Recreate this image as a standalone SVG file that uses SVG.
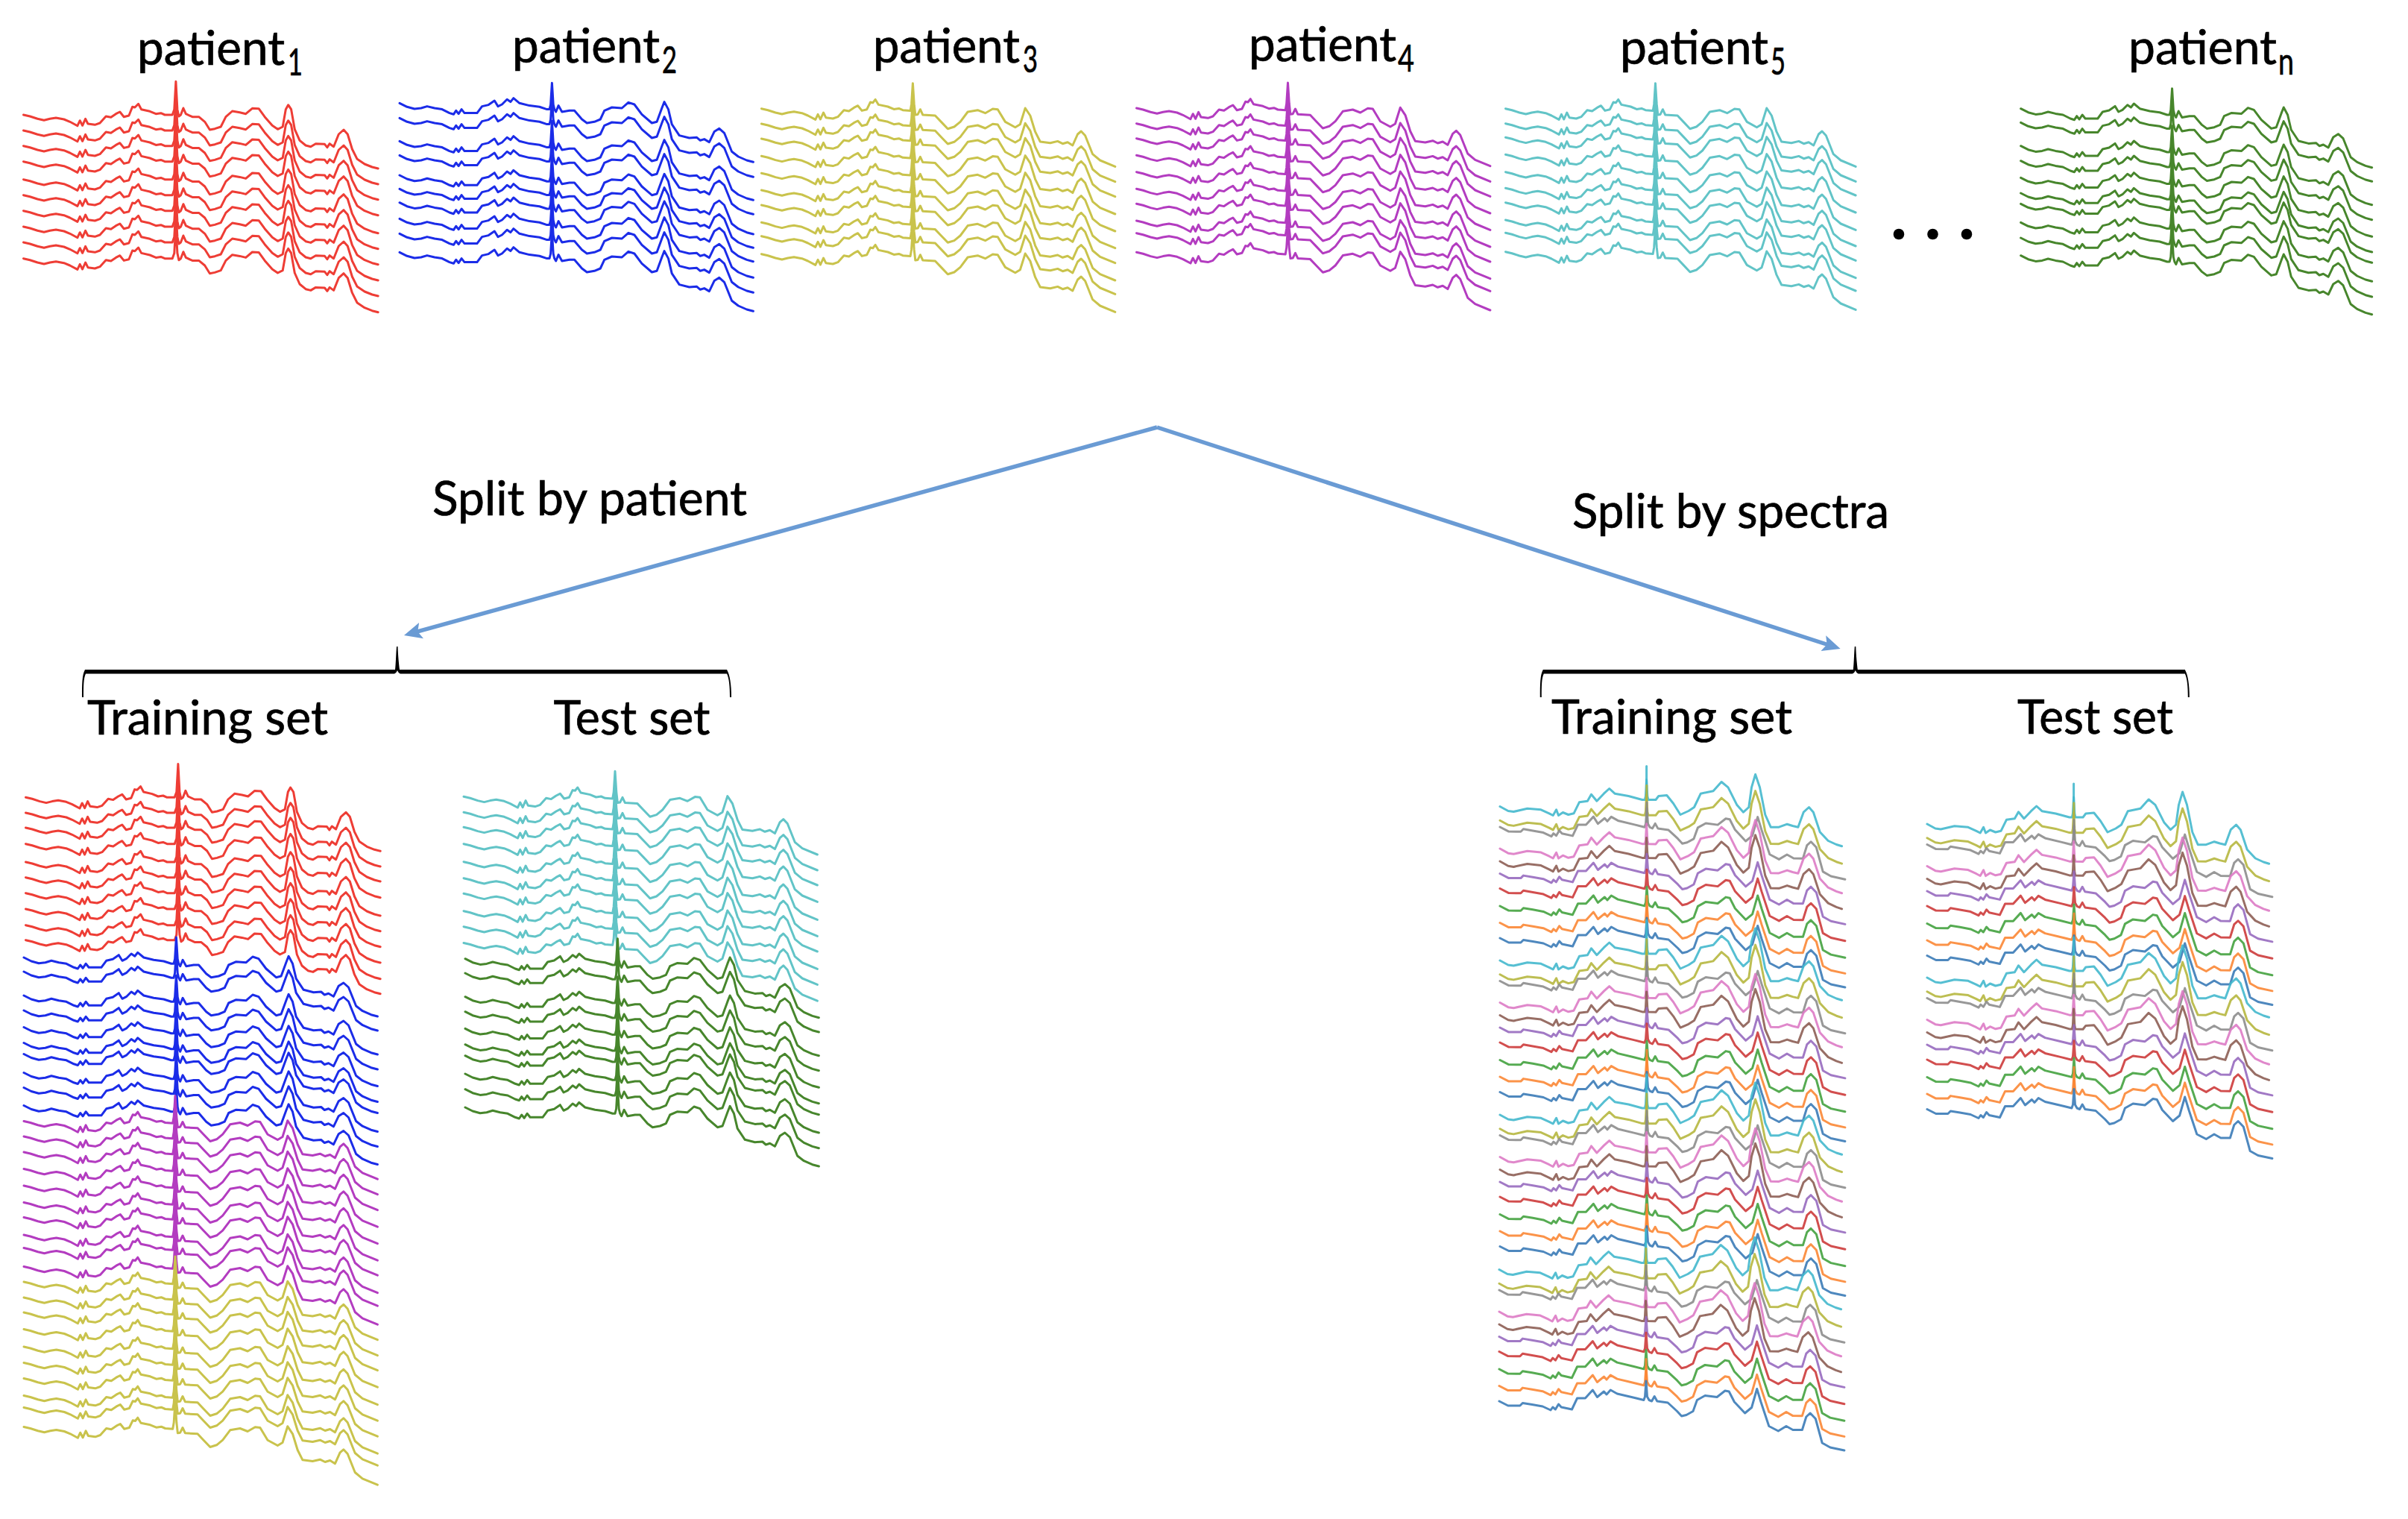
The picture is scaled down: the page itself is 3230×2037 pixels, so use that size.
<svg xmlns="http://www.w3.org/2000/svg" width="3230" height="2037" viewBox="0 0 3230 2037">
<style>
text{font-family:Lato,"Open Sans","Liberation Sans",sans-serif;fill:#000;stroke:#000;stroke-width:.7}
.lb{font-size:63px}.sb{font-size:50px}
.tr{fill:none;stroke-linejoin:round;stroke-linecap:round;stroke-width:3}
.red{stroke:#ee3d35}.blu{stroke:#1b2ce8}.oli{stroke:#c9c34c}.pur{stroke:#b33cc0}.tea{stroke:#62c4c7}.grn{stroke:#47862c}
.m{stroke-opacity:.88}
.k0{stroke:#3fb6cc}.k1{stroke:#b4b53a}.k2{stroke:#8a8a8a}.k3{stroke:#dc78c4}.k4{stroke:#8a5a50}.k5{stroke:#9467bd}.k6{stroke:#cc3535}.k7{stroke:#3f9f3a}.k8{stroke:#fb8430}.k9{stroke:#3577b5}
.ar{fill:none;stroke:#6a9bd4;stroke-width:5.5}
</style>
<defs>
<marker id="ah" markerUnits="userSpaceOnUse" markerWidth="24" markerHeight="24" refX="6" refY="12" orient="auto"><path d="M0 1L24 12L0 23L5 12Z" fill="#6a9bd4"/></marker>
<path id="br" d="M110 935C110 918 110 905 114 898H530C531 890 531 880 532 867H533.5C534 880 535 890 536 898H975C979 905 981 918 981 935H979C979 920 978 910 975 903.5H538C535 903.5 534 901 533 899C532 901 531 903.5 528 903.5H115C112 910 112 920 112 935Z" fill="#000"/>
<path id="s" d="M0 0L8.7 2L18.8 5.3L27.5 7.3L35.5 5.3L43.6 4L54.3 6L62.3 9.3L72.4 14.7L75.7 7.7L79.1 14.3L83.1 5.3L86.4 12L95.8 13.3L102.5 11L110.6 2L117.3 3.3L124 -1.3L129.3 -4L134.7 2.7L141.4 1L146.1 -10.7L149.4 -10L154.1 -14.7L158.1 -7.3L169.5 -4.7L177.6 -1.3L184.3 -2.3L189.6 0L199.7 0L202.3 -7.3L204.4 -44.7L206.4 -7.3L208.4 2L211 0L214.4 -9L217.8 -1.3L226.5 2.7L235.2 2.7L243.2 9.3L249.9 20L256.6 18.7L264.7 16L271.4 2.7L280.1 -5L290.1 -3.3L298.2 -1.3L306.9 -8.7L315.6 -8.3L323.6 2.7L333.7 14.3L341 19.3L347.7 16L351.8 -7.3L355.1 -13.3L359.1 -7.3L363.8 19.3L370.5 34.3L378.6 41L385.3 42.7L392 38.7L404 39.3L407.4 43.7L410.7 38.7L416.1 42.7L422.8 26L429.5 20L434.8 26L440.9 46L447.6 59.3L457.6 66L467.7 70L475.7 72"/>
<path id="t" d="M0 0L8.7 2L18.8 5.3L27.5 7.3L35.5 5.3L43.6 4L54.3 6L62.3 9.3L72.4 14.7L75.7 7.7L79.1 14.3L83.1 5.3L86.4 12L95.8 13.3L102.5 11L110.6 2L117.3 3.3L124 -1.3L129.3 -4L134.7 2.7L141.4 1L146.1 -8.7L149.4 -8L152.8 -12.3L157 -5.3L169.5 -2.7L177.6 .7L184.3 -.3L189.6 2L199.7 2.7L201.2 -6L203 -34L204.8 -6L206.4 8.3L209.7 7.7L213 1L216.4 8.3L233 9.3L241 17.7L249.9 27L258.6 24.3L266.7 17.7L276.7 4.3L290 2L300.2 6L310.2 .3L316.9 1L327 17.7L340.4 25L347 21L353.8 -.7L360.5 9.3L367.2 31L373.9 44.3L387.3 46L397.3 43.7L404 47L410.7 45L417.4 49.3L424.1 34.3L428.8 30.3L434.2 36L444.2 61L454.2 69.3L474.4 77.7"/>
<path id="u" d="M0 0L10 5L20 7.7L28.8 6.7L36.9 4.3L46.9 6.7L57 8.3L67 13.3L72.4 15L75.7 10L79.1 14.3L83.1 8.3L87.1 13.3L97.2 13.3L103.9 13.3L110.6 4.3L119.3 2.3L127.3 -3.3L132 4.3L137.4 1.7L144.1 -5L148.8 -1.7L152.8 -6.7L160.8 0L174.2 3.3L187.6 5L197.7 8.3L201 8.3L202.6 2L204.4 -27L206.2 2L207.7 8.3L209.7 11.7L213.1 3.3L217.8 11.7L227.8 10L234.5 10L244.6 21.7L251.3 26.7L261.3 25L269.3 21.7L274.7 10L284.8 5.7L298.2 6.7L306.9 -1L314.9 1.7L324.9 15L338.4 26.7L345.1 25L351.8 6.7L355.1 -1.7L360.5 8.3L365.2 28.3L375.2 43.3L388.6 46.7L398.7 46L403.3 50L408.7 48.3L415.4 52.3L422.1 38.3L428.8 34L435.5 40L445.6 65L454.3 71.7L465.7 76.7L474.4 79"/>
<path id="a" d="M0 0L11 6L18.3 7L36.7 2.7L55 4.3L66 9.3L71.2 12L75.6 4.3L78.5 12L84.4 8L91.7 11L99 9.3L106.4 -5.7L117.4 -7.3L122.5 -16.3L129.9 -7.3L139.4 -17.3L146.7 -24L154 -17.3L172.4 -14L190.8 -9L194.4 -9L195.4 -14L196.6 -36L197.8 -14L198.8 -9L209 -9L212.8 -14L223.8 -15L232.6 -4L242 11L253 6L260.5 1L269.3 -17.3L286.1 -20.7L297.1 -33L306 -25.7L317.7 -2.3L326.5 7.7L333.8 1L337.5 -25.7L342.6 -43L348.5 -25.7L355.8 11L363.2 27.7L374.2 27.7L385.2 23.7L392.5 26L399.9 27.7L407.2 7.7L414.5 1L420.4 7.7L429.2 34.3L440.2 46L451.2 51L458.6 53.3"/>
<path id="b" d="M0 0L11.8 6L27.9 6L31.4 2.5L44 4.5L58.2 7L69 12L71.8 8L75.4 11L79.6 4L83.2 8L97.5 11L104.6 -4L115.4 -4L125.4 -15L131.4 -5.5L140.4 -13L144 -9L149.3 -15L158.2 -10L179.6 -5L193.9 -1.5L195.5 -6L197 -27L198.5 -6L201 -1.5L204.6 0L208.2 -6.5L211.8 0L226.1 2L233.2 8.5L238.6 13.5L244.6 20L251 18.5L260 13.5L265.4 -1.5L276.1 -7.5L292.1 -5.5L302.9 -14L308.2 -13L315.4 1L329.6 16L338.6 8.5L345.7 -16.5L351 1L361.8 33.5L374.3 40L385 33.5L393.9 38.5L406.4 38.5L411.8 21L417.1 16L424.3 23.5L433.2 56L443.9 62L462.9 66"/>
<g id="cycle" class="tr m">
<use href="#a" class="k0"/><path class="k0" d="M196.6 -9V-54"/>
<use href="#a" class="k1" transform="matrix(1 .01 0 1 0 18.7)"/><path class="k1" d="M196.8 9V-28.3"/>
<use href="#b" class="k2" transform="matrix(1 .009 0 1 0 27.5)"/><path class="k2" d="M197 25V-5.5"/>
<use href="#a" class="k3" transform="matrix(1 .014 0 1 0 56.5)"/>
<use href="#a" class="k4" transform="matrix(1 .023 0 1 0 73.5)"/>
<use href="#b" class="k5" transform="matrix(1 .004 0 1 0 90)"/>
<use href="#b" class="k6" transform="matrix(1 .009 0 1 0 110)"/>
<use href="#b" class="k7" transform="matrix(1 .007 0 1 0 133.5)"/>
<use href="#b" class="k8" transform="matrix(1 .004 0 1 0 156)"/><path class="k8" d="M197 150V120"/>
<use href="#b" class="k9" transform="translate(0 176.5)"/>
</g>
</defs>
<g id="connectors">
<path class="ar" marker-end="url(#ah)" d="M1552 573L559.3 847.2"/>
<path class="ar" marker-end="url(#ah)" d="M1552 573L2451.5 864.5"/>
</g>
<g id="patient1"><text class="lb" x="184" y="87" textLength="198" lengthAdjust="spacingAndGlyphs">patient</text><text class="sb" x="386" y="101" textLength="20" lengthAdjust="spacingAndGlyphs">1</text>
<g class="tr red" transform="translate(31.5 0)"><use href="#s" y="154"/><use href="#s" y="175"/><use href="#s" y="195.7"/><use href="#s" y="216.7"/><use href="#s" y="240.7"/><use href="#s" y="261.7"/><use href="#s" y="282.7"/><use href="#s" y="304"/><use href="#s" y="325"/><use href="#s" y="346.7"/></g></g>
<g id="patient2"><text class="lb" x="687" y="83.5" textLength="198" lengthAdjust="spacingAndGlyphs">patient</text><text class="sb" x="888" y="98" textLength="20" lengthAdjust="spacingAndGlyphs">2</text>
<g class="tr blu" transform="translate(536 0)"><use href="#u" y="138.3"/><use href="#u" y="158.3"/><use href="#u" y="189.3"/><use href="#u" y="208.3"/><use href="#u" y="235"/><use href="#u" y="253.3"/><use href="#u" y="271.7"/><use href="#u" y="293.3"/><use href="#u" y="313.3"/><use href="#u" y="338.3"/></g></g>
<g id="patient3"><text class="lb" x="1171" y="83.5" textLength="197" lengthAdjust="spacingAndGlyphs">patient</text><text class="sb" x="1372" y="97" textLength="20" lengthAdjust="spacingAndGlyphs">3</text>
<g class="tr oli" transform="translate(1021.4 0)"><use href="#t" y="145.7"/><use href="#t" y="166"/><use href="#t" y="186"/><use href="#t" y="209.3"/><use href="#t" y="232.3"/><use href="#t" y="255"/><use href="#t" y="275"/><use href="#t" y="298.3"/><use href="#t" y="316.7"/><use href="#t" y="340.7"/></g></g>
<g id="patient4"><text class="lb" x="1675" y="81.7" textLength="198" lengthAdjust="spacingAndGlyphs">patient</text><text class="sb" x="1875" y="96" textLength="22" lengthAdjust="spacingAndGlyphs">4</text>
<g class="tr pur" transform="translate(1524.5 0)"><use href="#t" y="145"/><use href="#t" y="165.7"/><use href="#t" y="185.7"/><use href="#t" y="208.3"/><use href="#t" y="230.7"/><use href="#t" y="253.3"/><use href="#t" y="273.3"/><use href="#t" y="296"/><use href="#t" y="312.7"/><use href="#t" y="338.3"/></g></g>
<g id="patient5"><text class="lb" x="2173" y="85.7" textLength="199" lengthAdjust="spacingAndGlyphs">patient</text><text class="sb" x="2375" y="100" textLength="20" lengthAdjust="spacingAndGlyphs">5</text>
<g class="tr tea" transform="translate(2019.5 0) scale(.99 1)"><use href="#t" y="145.7"/><use href="#t" y="165.7"/><use href="#t" y="184.3"/><use href="#t" y="207.3"/><use href="#t" y="230.7"/><use href="#t" y="252.3"/><use href="#t" y="271.7"/><use href="#t" y="295"/><use href="#t" y="312.3"/><use href="#t" y="337.7"/></g></g>
<g id="ellipsis"><circle cx="2547" cy="314" r="7.3"/><circle cx="2592.5" cy="314" r="7.3"/><circle cx="2638" cy="314" r="7.3"/></g>
<g id="patientn"><text class="lb" x="2855" y="85.7" textLength="199" lengthAdjust="spacingAndGlyphs">patient</text><text class="sb" x="3056" y="100" textLength="21" lengthAdjust="spacingAndGlyphs">n</text>
<g class="tr grn" transform="translate(2710.6 0) scale(.993 1)"><use href="#u" y="145.7"/><use href="#u" y="164.3"/><use href="#u" y="195.7"/><use href="#u" y="215.7"/><use href="#u" y="238.3"/><use href="#u" y="259"/><use href="#u" y="273.3"/><use href="#u" y="298.3"/><use href="#u" y="319"/><use href="#u" y="342.7"/></g></g>
<g id="split-patient"><text class="lb" x="580" y="691" textLength="422" lengthAdjust="spacingAndGlyphs">Split by patient</text></g>
<g id="split-spectra"><text class="lb" x="2109" y="708" textLength="425" lengthAdjust="spacingAndGlyphs">Split by spectra</text></g>
<g id="left-brace"><use href="#br"/></g>
<g id="right-brace"><use href="#br" x="1955.8"/></g>
<g id="left-training"><text class="lb" x="117" y="985" textLength="323" lengthAdjust="spacingAndGlyphs">Training set</text>
<g class="tr red" transform="translate(34.5 0)"><use href="#s" y="1069.3"/><use href="#s" y="1090"/><use href="#s" y="1110"/><use href="#s" y="1131.7"/><use href="#s" y="1156"/><use href="#s" y="1176.7"/><use href="#s" y="1197.7"/><use href="#s" y="1219"/><use href="#s" y="1240.7"/><use href="#s" y="1260.7"/></g>
<g class="tr blu" transform="translate(32 0)"><use href="#u" y="1284"/><use href="#u" y="1303"/><use href="#u" y="1335"/><use href="#u" y="1355"/><use href="#u" y="1377.5"/><use href="#u" y="1398.5"/><use href="#u" y="1413.5"/><use href="#u" y="1438.5"/><use href="#u" y="1458.5"/><use href="#u" y="1482.5"/></g>
<g class="tr pur" transform="translate(32 0)"><use href="#t" y="1503.5"/><use href="#t" y="1524"/><use href="#t" y="1545"/><use href="#t" y="1567.5"/><use href="#t" y="1590"/><use href="#t" y="1612.5"/><use href="#t" y="1632.5"/><use href="#t" y="1656"/><use href="#t" y="1673.5"/><use href="#t" y="1698.5"/></g>
<g class="tr oli" transform="translate(32 0)"><use href="#t" y="1719"/><use href="#t" y="1740"/><use href="#t" y="1760"/><use href="#t" y="1782.5"/><use href="#t" y="1806"/><use href="#t" y="1827.5"/><use href="#t" y="1848.5"/><use href="#t" y="1871.5"/><use href="#t" y="1887.5"/><use href="#t" y="1913.5"/></g></g>
<g id="left-test"><text class="lb" x="742.5" y="985" textLength="210" lengthAdjust="spacingAndGlyphs">Test set</text>
<g class="tr tea" transform="translate(622 0)"><use href="#t" y="1068.3"/><use href="#t" y="1089.3"/><use href="#t" y="1109.3"/><use href="#t" y="1131.7"/><use href="#t" y="1155.7"/><use href="#t" y="1177.7"/><use href="#t" y="1198.3"/><use href="#t" y="1221.7"/><use href="#t" y="1242.7"/><use href="#t" y="1264.5"/></g>
<g class="tr grn" transform="translate(624 0)"><use href="#u" y="1285.7"/><use href="#u" y="1305"/><use href="#u" y="1336.7"/><use href="#u" y="1356.7"/><use href="#u" y="1379.3"/><use href="#u" y="1400.7"/><use href="#u" y="1415.7"/><use href="#u" y="1440"/><use href="#u" y="1460.7"/><use href="#u" y="1485"/></g></g>
<g id="right-training"><text class="lb" x="2081" y="984" textLength="323" lengthAdjust="spacingAndGlyphs">Training set</text>
<use href="#cycle" x="2012" y="1081.5"/><use href="#cycle" x="2012" y="1288"/><use href="#cycle" x="2012" y="1495"/><use href="#cycle" x="2011" y="1702.5"/></g>
<g id="right-test"><text class="lb" x="2706" y="984" textLength="209" lengthAdjust="spacingAndGlyphs">Test set</text>
<use href="#cycle" x="2585" y="1105"/><use href="#cycle" x="2585" y="1311"/></g>
</svg>
